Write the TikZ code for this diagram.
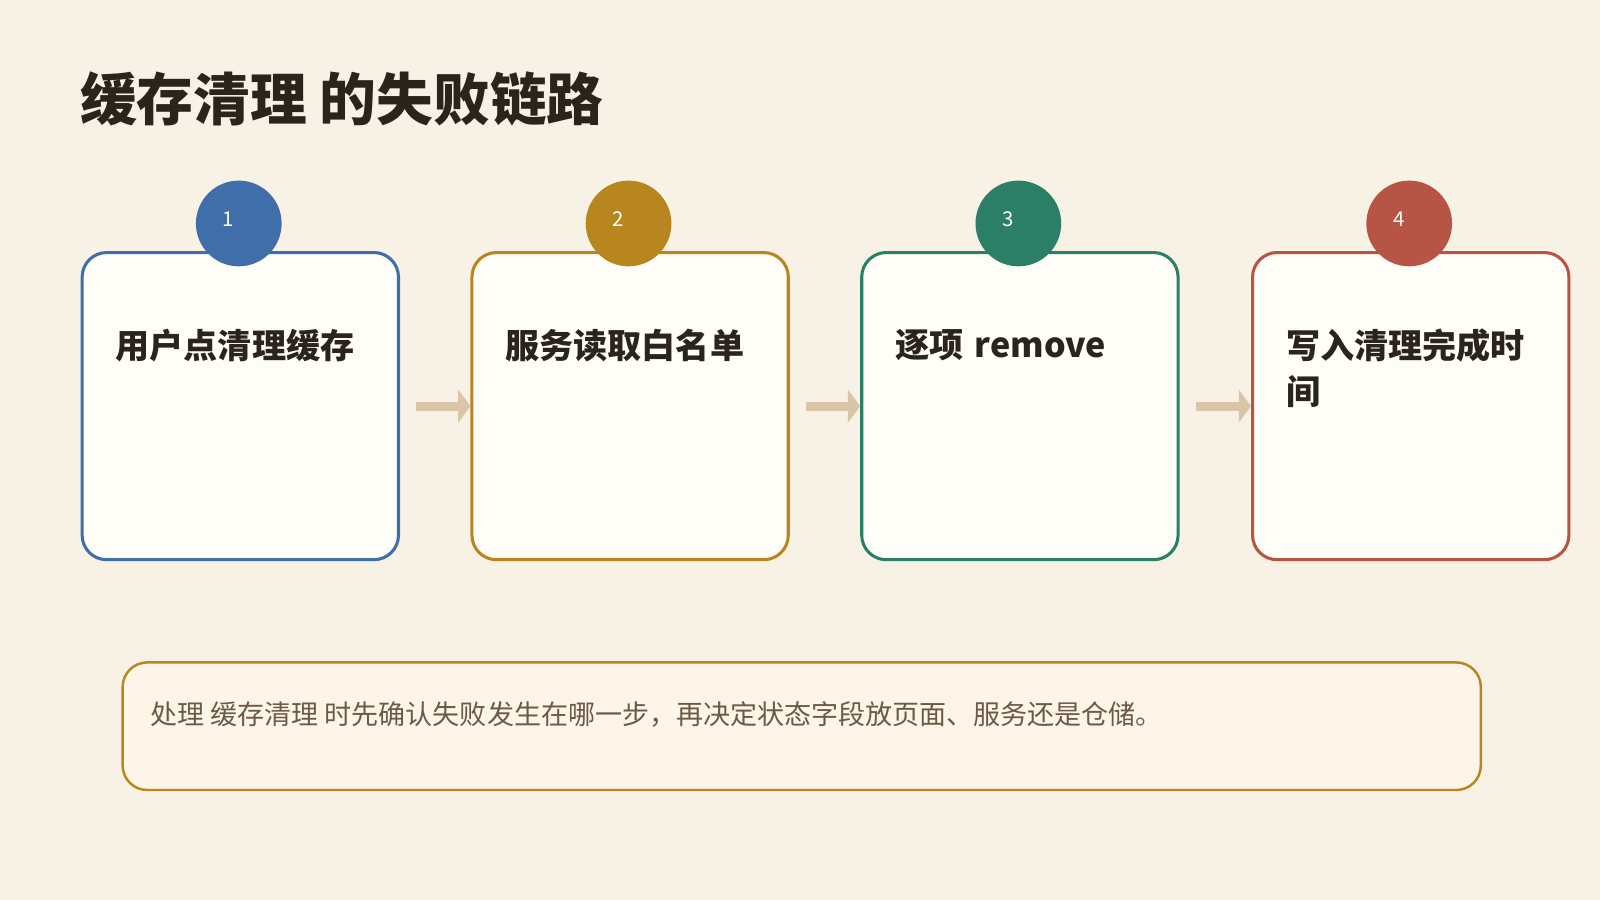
\documentclass[tikz,border=0pt]{standalone}
\usepackage{fontspec}
\setmainfont{Noto Sans CJK SC}
\usetikzlibrary{arrows.meta,positioning}
\definecolor{bgcol}{HTML}{F8F1E6}
\definecolor{cardfill}{HTML}{FFFDF7}
\definecolor{notefill}{HTML}{FDF6E8}
\definecolor{arrowcol}{HTML}{D9C6A8}
\definecolor{textcol}{HTML}{2B241C}
\definecolor{notetext}{HTML}{6B5A45}
\definecolor{cblue}{HTML}{3F6EA8}
\definecolor{cgold}{HTML}{B8861F}
\definecolor{cgreen}{HTML}{2B7F66}
\definecolor{cred}{HTML}{B65545}
\tikzset{
    card/.style={draw=#1, line width=1.5pt, fill=cardfill, rounded corners=12pt,
        minimum width=155pt, minimum height=150.5pt, anchor=north west, inner sep=0pt},
    badge/.style={circle, fill=#1, minimum size=42pt, inner sep=0pt,
        text=white, font=\fontsize{10}{12}\selectfont},
    cardtext/.style={anchor=north west, align=left, text width=125pt, text=textcol,
        font=\bfseries\fontsize{16.7}{22.5}\selectfont, inner sep=0pt},
    flow/.style={-{Triangle[length=6pt,width=16pt]}, line width=4.5pt, draw=arrowcol},
}
\begin{document}
\begin{tikzpicture}[x=0.5pt, y=-0.5pt]
    \fill[bgcol] (0,0) rectangle (1568,882);
    \useasboundingbox (0,0) rectangle (1568,882);
    % Title
    \node[anchor=west, inner sep=0pt, text=textcol, font=\bfseries\fontsize{27.8}{32}\selectfont]
        (title) at (78,97) {缓存清理 的失败链路};
    % Step cards
    \foreach \i/\x/\c/\t in {1/79/cblue/用户点清理缓存, 2/461/cgold/服务读取白名单,
        3/843/cgreen/逐项 remove, 4/1226/cred/写入清理完成时\\间} {
        \node[card=\c] (card\i) at (\x,246) {};
        \node[badge=\c] (badge\i) at (\x+155,219) {};
        \node[text=white, font=\fontsize{10}{12}\selectfont] (num\i) at (\x+145,215) {\i};
        \node[cardtext] (label\i) at (\x+34,322) {\t};
    }
    % Arrows between cards
    \foreach \a/\b in {1/2, 2/3, 3/4} {
        \draw[flow] ([xshift=8pt]card\a.east) -- (card\b.west);
    }
    % Note
    \node[draw=cgold, line width=1.2pt, fill=notefill, rounded corners=12pt,
        minimum width=665.5pt, minimum height=62.5pt, anchor=north west] (note) at (119,648) {};
    \node[anchor=west, inner sep=0pt, text=notetext, font=\fontsize{13.25}{16}\selectfont]
        (notetext) at (147,700) {处理 缓存清理 时先确认失败发生在哪一步，再决定状态字段放页面、服务还是仓储。};
\end{tikzpicture}
\end{document}
